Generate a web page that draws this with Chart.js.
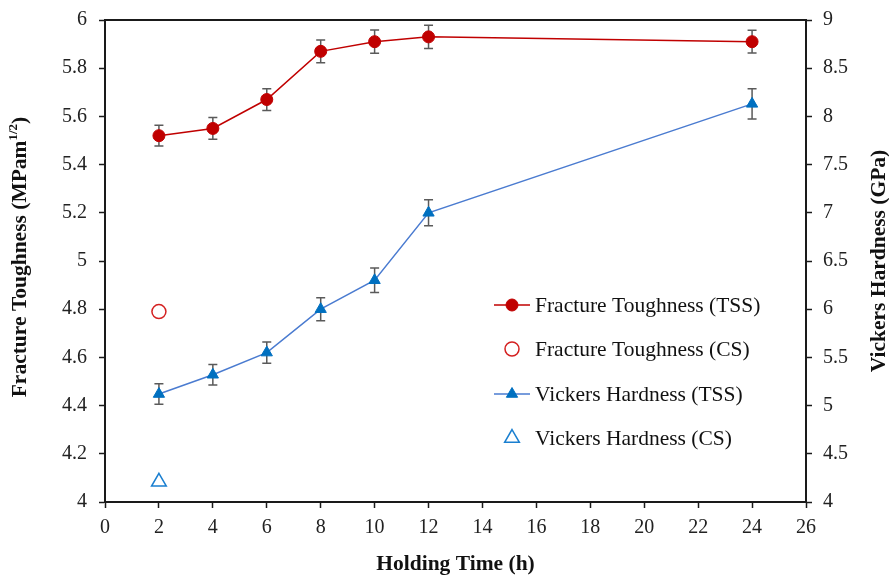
<!DOCTYPE html>
<html>
<head>
<meta charset="utf-8">
<script src="https://cdn.jsdelivr.net/npm/chart.js@4.4.1/dist/chart.umd.min.js"></script>
<style>
  html, body { margin: 0; padding: 0; background: #fff; }
  #wrap { width: 889px; height: 577px; }
</style>
</head>
<body>
<div id="wrap"><canvas id="myChart" width="889" height="577"></canvas></div>
<script>
// holding time (h)
const hours = [2, 4, 6, 8, 10, 12, 24]
// fracture toughness, TSS samples (MPa m^1/2) and its error
const ftTSS = [5.52, 5.55, 5.67, 5.87, 5.91, 5.93, 5.91]
const ftTSSErr = [0.043, 0.045, 0.045, 0.047, 0.048, 0.048, 0.047]
// vickers hardness, TSS samples (GPa) and its error
const vhTSS = [5.12, 5.32, 5.55, 6.00, 6.30, 7.00, 8.13]
const vhTSSErr = [0.107, 0.107, 0.11, 0.12, 0.128, 0.135, 0.156]
// conventional sintering, single points
const csHours = [2]
const ftCS = [4.79]
const vhCS = [4.21]

const legendLabels = ['Fracture Toughness (TSS)', 'Fracture Toughness (CS)', 'Vickers Hardness (TSS)', 'Vickers Hardness (CS)']

const serif = '"Liberation Serif", "Times New Roman", serif'
Chart.defaults.font.family = serif
Chart.defaults.color = '#222'

const red = '#C00000'
const blue = '#0070C0'
const axisColor = '#1a1a1a'

const pts = (xs, ys) => xs.map((x, i) => ({x: x, y: ys[i]}))

const info = {
    datasets: [{
        label: legendLabels[0],
        data: pts(hours, ftTSS),
        err: ftTSSErr,
        yAxisID: 'y',
        borderColor: red,
        backgroundColor: red,
        borderWidth: 1.5,
        pointStyle: 'circle',
        pointRadius: 6,
        pointBorderWidth: 1,
        pointBackgroundColor: red,
        pointBorderColor: red
    }, {
        label: legendLabels[1],
        data: pts(csHours, ftCS),
        yAxisID: 'y',
        showLine: false,
        pointStyle: 'circle',
        pointRadius: 7,
        pointBorderWidth: 1.5,
        pointBackgroundColor: 'rgba(255,255,255,0)',
        pointBorderColor: '#D42020'
    }, {
        label: legendLabels[2],
        data: pts(hours, vhTSS),
        err: vhTSSErr,
        yAxisID: 'y1',
        borderColor: '#4A7BD0',
        backgroundColor: blue,
        borderWidth: 1.5,
        pointStyle: 'triangle',
        pointRadius: 6.5,
        pointBorderWidth: 1,
        pointBackgroundColor: blue,
        pointBorderColor: blue
    }, {
        label: legendLabels[3],
        data: pts(csHours, vhCS),
        yAxisID: 'y1',
        showLine: false,
        pointStyle: 'triangle',
        pointRadius: 8.5,
        pointBorderWidth: 1.5,
        pointBackgroundColor: 'rgba(255,255,255,0)',
        pointBorderColor: '#1A7FD0'
    }]
}

// error bars drawn under the markers
const errorBars = {
    id: 'errorBars',
    beforeDatasetsDraw(chart) {
        const ctx = chart.ctx
        ctx.save()
        ctx.strokeStyle = '#5a5a5a'
        ctx.lineWidth = 1.5
        chart.data.datasets.forEach((ds, di) => {
            if (!ds.err) return
            const ys = chart.scales[ds.yAxisID]
            ds.data.forEach((p, i) => {
                const x = chart.scales.x.getPixelForValue(p.x)
                const y0 = ys.getPixelForValue(p.y - ds.err[i])
                const y1 = ys.getPixelForValue(p.y + ds.err[i])
                ctx.beginPath()
                ctx.moveTo(x, y0); ctx.lineTo(x, y1)
                ctx.moveTo(x - 4.5, y0); ctx.lineTo(x + 4.5, y0)
                ctx.moveTo(x - 4.5, y1); ctx.lineTo(x + 4.5, y1)
                ctx.stroke()
            })
        })
        ctx.restore()
    }
}

function rotatedTitle(ctx, cx, cy, parts) {
    // parts: [text, font, raise]
    ctx.save()
    ctx.translate(cx, cy)
    ctx.rotate(-Math.PI / 2)
    ctx.fillStyle = '#111'
    ctx.textBaseline = 'middle'
    ctx.textAlign = 'left'
    const widths = parts.map(p => { ctx.font = p[1]; return ctx.measureText(p[0]).width })
    let x = -widths.reduce((s, w) => s + w, 0) / 2
    parts.forEach((p, i) => {
        ctx.font = p[1]
        ctx.fillText(p[0], x, -p[2])
        x += widths[i]
    })
    ctx.restore()
}

// top frame line, axis titles reading upwards, legend inside the plot
const extras = {
    id: 'extras',
    afterDraw(chart) {
        const ctx = chart.ctx
        const a = chart.chartArea
        ctx.save()
        ctx.strokeStyle = axisColor
        ctx.lineWidth = 2
        ctx.beginPath()
        ctx.moveTo(a.left, a.top); ctx.lineTo(a.right, a.top)
        ctx.stroke()

        const big = 'bold 21.5px ' + serif
        const small = 'bold 13px ' + serif
        const midY = (a.top + a.bottom) / 2
        rotatedTitle(ctx, 20, midY - 4, [['Fracture Toughness (MPam', big, 0], ['1/2', small, 6], [')', big, 0]])
        rotatedTitle(ctx, 879, midY, [['Vickers Hardness (GPa)', big, 0]])

        // legend
        const rows = [305, 349, 394, 438]
        ctx.font = '21.5px ' + serif
        ctx.textBaseline = 'middle'
        ctx.textAlign = 'left'
        chart.data.datasets.forEach((ds, i) => {
            const y = rows[i]
            if (ds.showLine !== false) {
                ctx.strokeStyle = ds.borderColor
                ctx.lineWidth = ds.borderWidth
                ctx.beginPath()
                ctx.moveTo(494, y); ctx.lineTo(530, y)
                ctx.stroke()
            }
            ctx.fillStyle = ds.pointBackgroundColor
            ctx.strokeStyle = ds.pointBorderColor
            ctx.lineWidth = ds.pointBorderWidth
            ctx.beginPath()
            drawShape(ctx, ds.pointStyle, ds.pointRadius, 512, y)
            ctx.fill()
            ctx.stroke()
            ctx.fillStyle = '#111'
            ctx.fillText(ds.label, 535, y + 1)
        })
        ctx.restore()
    }
}

function drawShape(ctx, style, r, x, y) {
    if (style === 'circle') {
        ctx.arc(x, y, r, 0, Math.PI * 2)
    } else {
        const s = Math.sin(Math.PI / 3) * r
        ctx.moveTo(x, y - r)
        ctx.lineTo(x + s, y + r / 2)
        ctx.lineTo(x - s, y + r / 2)
        ctx.closePath()
    }
}

const gridOpts = {
    display: true,
    drawOnChartArea: false,
    drawTicks: true,
    tickLength: 6,
    tickWidth: 1.5,
    tickColor: axisColor
}
const borderOpts = { display: true, color: axisColor, width: 2 }
const tickFont = { size: 20 }
const fmt = v => String(+v.toFixed(1))
const fitY = w => s => { s.width = w; s.paddingTop = 0; s.paddingBottom = 0 }

const options = {
    responsive: false,
    animation: false,
    layout: { padding: { top: 20, left: 0, right: 0, bottom: 0 } },
    plugins: {
        legend: { display: false },
        tooltip: { enabled: false }
    },
    scales: {
        x: {
            type: 'linear',
            min: 0, max: 26,
            ticks: { stepSize: 2, font: tickFont, padding: 8, color: '#222', maxRotation: 0 },
            grid: gridOpts,
            border: borderOpts,
            title: {
                display: true,
                text: 'Holding Time (h)',
                font: { size: 21.5, weight: 'bold' },
                color: '#111',
                padding: { top: 0, bottom: 0 }
            },
            afterFit: s => { s.height = 75 }
        },
        y: {
            type: 'linear',
            position: 'left',
            min: 4, max: 6,
            ticks: { stepSize: 0.2, font: tickFont, padding: 12, color: '#222', callback: fmt },
            grid: gridOpts,
            border: borderOpts,
            afterFit: fitY(105)
        },
        y1: {
            type: 'linear',
            position: 'right',
            min: 4, max: 9,
            ticks: { stepSize: 0.5, font: tickFont, padding: 11, color: '#222', callback: fmt },
            grid: gridOpts,
            border: borderOpts,
            afterFit: fitY(83)
        }
    }
}

const config = {
    type: 'line',
    data: info,
    options,
    plugins: [errorBars, extras]
}

const myChart = new Chart(document.getElementById('myChart'), config)
</script>
</body>
</html>
